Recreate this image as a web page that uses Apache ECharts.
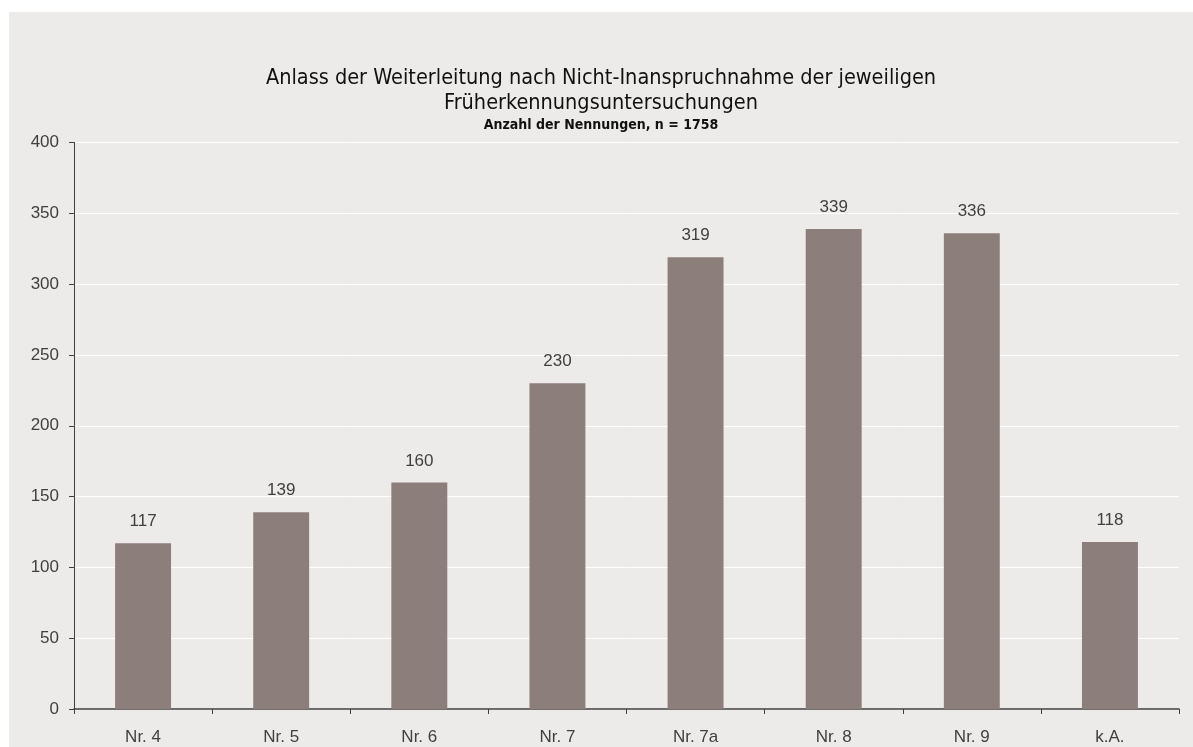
<!DOCTYPE html>
<html>
<head>
<meta charset="utf-8">
<script src="https://cdn.jsdelivr.net/npm/echarts@6/dist/echarts.min.js"></script>
<style>
  html, body { margin: 0; padding: 0; background: #ffffff; }
  #chart { position: absolute; left: 9px; top: 12px; width: 1184px; height: 735px; background: #edebe9; }
</style>
</head>
<body>
<div id="chart"></div>
<script>
// Anlass der Weiterleitung, Anzahl der Nennungen
const categories = ['Nr. 4', 'Nr. 5', 'Nr. 6', 'Nr. 7', 'Nr. 7a', 'Nr. 8', 'Nr. 9', 'k.A.'];
const counts = [117, 139, 160, 230, 319, 339, 336, 118];
const yTicks = { min: 0, max: 400, interval: 50 };

const titleFont = '"Liberation Sans Narrow", "DejaVu Sans Condensed", "Roboto", sans-serif';
const labelFont = '"Liberation Sans", Arial, sans-serif';
const ink = '#404040';

const chart = echarts.init(document.getElementById('chart'), null, { renderer: 'canvas' });

chart.setOption({
  backgroundColor: 'transparent',
  animation: false,
  title: [
    {
      text: 'Anlass der Weiterleitung nach Nicht-Inanspruchnahme der jeweiligen\nFrüherkennungsuntersuchungen',
      left: 'center',
      top: 49,
      textStyle: { fontFamily: titleFont, fontSize: 21.5, fontWeight: 'normal', color: '#111', lineHeight: 25 },
    },
    {
      text: 'Anzahl der Nennungen, n = 1758',
      left: 'center',
      top: 101,
      textStyle: { fontFamily: titleFont, fontSize: 14, fontWeight: 'bold', color: '#111' },
    },
  ],
  grid: { left: 65, right: 14, top: 130.5, bottom: 38 },
  xAxis: {
    type: 'category',
    data: categories,
    axisLine: { lineStyle: { color: ink, width: 1.5 } },
    axisTick: { show: true, length: 5, lineStyle: { color: ink } },
    axisLabel: { color: ink, fontFamily: labelFont, fontSize: 17, margin: 20 },
  },
  yAxis: {
    type: 'value',
    min: yTicks.min,
    max: yTicks.max,
    interval: yTicks.interval,
    axisLine: { show: true, lineStyle: { color: ink, width: 1 } },
    axisTick: { show: true, length: 5, lineStyle: { color: ink } },
    axisLabel: { color: ink, fontFamily: labelFont, fontSize: 17, margin: 15 },
    splitLine: { lineStyle: { color: '#ffffff', width: 1 } },
  },
  series: [
    {
      type: 'bar',
      data: counts,
      barWidth: '40.5%',
      itemStyle: { color: '#8c7f7b' },
      label: {
        show: true,
        position: 'top',
        distance: 13,
        color: ink,
        fontFamily: labelFont,
        fontSize: 17,
      },
    },
  ],
});
</script>
</body>
</html>
